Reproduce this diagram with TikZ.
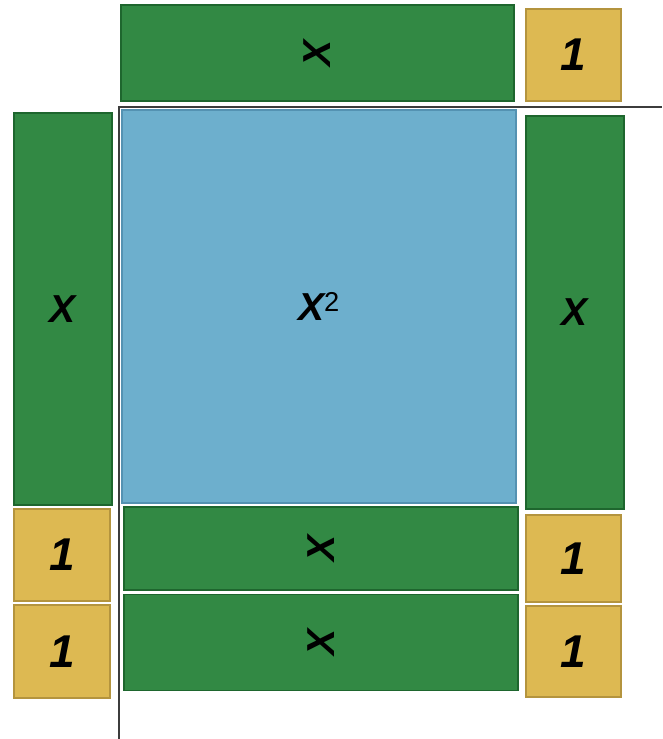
\documentclass[tikz,border=0pt]{standalone}
\usepackage{fontspec}
\usepackage{graphicx}
\setmainfont{Liberation Sans}
\definecolor{tgreen}{RGB}{50,137,68}
\definecolor{tgreenb}{RGB}{30,102,46}
\definecolor{tblue}{RGB}{109,175,205}
\definecolor{tblueb}{RGB}{84,146,178}
\definecolor{tyellow}{RGB}{221,185,82}
\definecolor{tyellowb}{RGB}{180,148,62}
\definecolor{axis}{RGB}{60,60,60}
\tikzset{
  tile/.style={rectangle, inner sep=0pt, line width=1.1pt, font=\fontsize{39}{39}\selectfont\bfseries\itshape},
  gtile/.style={tile, fill=tgreen, draw=tgreenb},
  btile/.style={tile, fill=tblue, draw=tblueb},
  ytile/.style={tile, fill=tyellow, draw=tyellowb, font=\fontsize{46}{46}\selectfont\bfseries\itshape},
  axisline/.style={draw=axis, line width=1.6pt}
}
\newcommand{\rotx}{\rotatebox{90}{X}}
\begin{document}
\begin{tikzpicture}[x=1pt,y=-1pt]
\useasboundingbox (0,0) rectangle (662,739);
% axes
\coordinate (h1) at (118,107);
\coordinate (h2) at (662,107);
\coordinate (v1) at (119,107);
\coordinate (v2) at (119,739);
\draw[axisline] (h1) -- (h2);
\draw[axisline] (v1) -- (v2);
% top row
\node[gtile, minimum width=393pt, minimum height=96pt] (top) at (317.5,53) {\rotx};
\node[ytile, minimum width=95pt, minimum height=92pt] (topone) at (573.5,55) {1};
% left column
\node[gtile, minimum width=98pt, minimum height=392pt] (leftx) at (63,309) {X};
\node[ytile, minimum width=96pt, minimum height=92pt] (leftone1) at (62,555) {1};
\node[ytile, minimum width=96pt, minimum height=93pt] (leftone2) at (62,651.5) {1};
% center square
\node[btile, minimum width=394pt, minimum height=393pt] (sq) at (319,306.5) {X\textsuperscript{\mdseries\upshape 2}};
% right column
\node[gtile, minimum width=98pt, minimum height=393pt] (rightx) at (575,312.5) {X};
\node[ytile, minimum width=95pt, minimum height=87pt] (rightone1) at (573.5,558.5) {1};
\node[ytile, minimum width=95pt, minimum height=91pt] (rightone2) at (573.5,651.5) {1};
% bottom bars
\node[gtile, minimum width=394pt, minimum height=83pt] (bot1) at (321,548.5) {\rotx};
\node[gtile, minimum width=394pt, minimum height=96pt] (bot2) at (321,642.5) {\rotx};
\end{tikzpicture}
\end{document}
